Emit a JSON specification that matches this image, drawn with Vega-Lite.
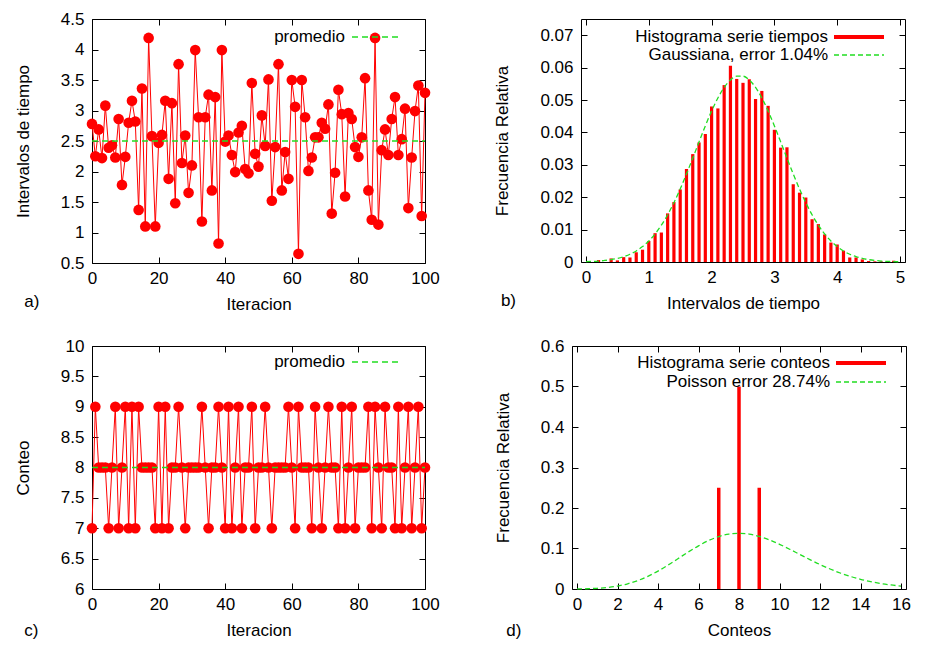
{
  "$schema": "https://vega.github.io/schema/vega-lite/v6.json",
  "background": "white",
  "padding": {"left": 13, "top": 9, "right": 5, "bottom": 5},
  "datasets": {
    "tiempos": [{"i":0,"t":2.78},{"i":1,"t":2.25},{"i":2,"t":2.69},{"i":3,"t":2.22},{"i":4,"t":3.08},{"i":5,"t":2.39},{"i":6,"t":2.43},{"i":7,"t":2.23},{"i":8,"t":2.86},{"i":9,"t":1.78},
      {"i":10,"t":2.24},{"i":11,"t":2.80},{"i":12,"t":3.16},{"i":13,"t":2.82},{"i":14,"t":1.37},{"i":15,"t":3.36},{"i":16,"t":1.10},{"i":17,"t":4.19},{"i":18,"t":2.58},{"i":19,"t":1.10},
      {"i":20,"t":2.47},{"i":21,"t":2.60},{"i":22,"t":3.16},{"i":23,"t":1.88},{"i":24,"t":3.12},{"i":25,"t":1.48},{"i":26,"t":3.76},{"i":27,"t":2.14},{"i":28,"t":2.59},{"i":29,"t":1.65},
      {"i":30,"t":2.10},{"i":31,"t":3.99},{"i":32,"t":2.89},{"i":33,"t":1.18},{"i":34,"t":2.89},{"i":35,"t":3.26},{"i":36,"t":1.69},{"i":37,"t":3.22},{"i":38,"t":0.82},{"i":39,"t":3.99},
      {"i":40,"t":2.49},{"i":41,"t":2.59},{"i":42,"t":2.27},{"i":43,"t":1.99},{"i":44,"t":2.64},{"i":45,"t":2.75},{"i":46,"t":2.04},{"i":47,"t":1.97},{"i":48,"t":3.45},{"i":49,"t":2.29},
      {"i":50,"t":2.08},{"i":51,"t":2.92},{"i":52,"t":2.42},{"i":53,"t":3.51},{"i":54,"t":1.52},{"i":55,"t":2.40},{"i":56,"t":3.76},{"i":57,"t":1.69},{"i":58,"t":2.32},{"i":59,"t":1.88},
      {"i":60,"t":3.50},{"i":61,"t":3.06},{"i":62,"t":0.65},{"i":63,"t":3.50},{"i":64,"t":2.89},{"i":65,"t":2.01},{"i":66,"t":2.23},{"i":67,"t":2.56},{"i":68,"t":2.56},{"i":69,"t":2.80},
      {"i":70,"t":2.70},{"i":71,"t":3.10},{"i":72,"t":1.31},{"i":73,"t":1.98},{"i":74,"t":3.34},{"i":75,"t":2.94},{"i":76,"t":1.59},{"i":77,"t":2.96},{"i":78,"t":2.86},{"i":79,"t":2.40},
      {"i":80,"t":2.24},{"i":81,"t":2.56},{"i":82,"t":3.53},{"i":83,"t":1.69},{"i":84,"t":1.21},{"i":85,"t":4.19},{"i":86,"t":1.13},{"i":87,"t":2.35},{"i":88,"t":2.69},{"i":89,"t":2.27},
      {"i":90,"t":2.86},{"i":91,"t":3.22},{"i":92,"t":2.27},{"i":93,"t":2.53},{"i":94,"t":3.03},{"i":95,"t":1.40},{"i":96,"t":2.23},{"i":97,"t":2.99},{"i":98,"t":3.41},{"i":99,"t":1.27},{"i":100,"t":3.29}],
    "conteos": [{"i":0,"c":7},{"i":1,"c":9},{"i":2,"c":8},{"i":3,"c":8},{"i":4,"c":8},{"i":5,"c":7},{"i":6,"c":8},{"i":7,"c":9},{"i":8,"c":7},{"i":9,"c":8},
      {"i":10,"c":9},{"i":11,"c":7},{"i":12,"c":9},{"i":13,"c":7},{"i":14,"c":9},{"i":15,"c":8},{"i":16,"c":8},{"i":17,"c":8},{"i":18,"c":8},{"i":19,"c":7},
      {"i":20,"c":9},{"i":21,"c":7},{"i":22,"c":9},{"i":23,"c":7},{"i":24,"c":8},{"i":25,"c":8},{"i":26,"c":9},{"i":27,"c":8},{"i":28,"c":7},{"i":29,"c":8},
      {"i":30,"c":8},{"i":31,"c":8},{"i":32,"c":8},{"i":33,"c":9},{"i":34,"c":8},{"i":35,"c":7},{"i":36,"c":8},{"i":37,"c":8},{"i":38,"c":9},{"i":39,"c":8},
      {"i":40,"c":7},{"i":41,"c":9},{"i":42,"c":7},{"i":43,"c":8},{"i":44,"c":9},{"i":45,"c":7},{"i":46,"c":8},{"i":47,"c":8},{"i":48,"c":9},{"i":49,"c":7},
      {"i":50,"c":8},{"i":51,"c":8},{"i":52,"c":9},{"i":53,"c":8},{"i":54,"c":7},{"i":55,"c":8},{"i":56,"c":8},{"i":57,"c":8},{"i":58,"c":8},{"i":59,"c":9},
      {"i":60,"c":8},{"i":61,"c":7},{"i":62,"c":9},{"i":63,"c":8},{"i":64,"c":8},{"i":65,"c":8},{"i":66,"c":7},{"i":67,"c":9},{"i":68,"c":8},{"i":69,"c":7},
      {"i":70,"c":8},{"i":71,"c":9},{"i":72,"c":8},{"i":73,"c":8},{"i":74,"c":7},{"i":75,"c":9},{"i":76,"c":7},{"i":77,"c":8},{"i":78,"c":9},{"i":79,"c":7},
      {"i":80,"c":8},{"i":81,"c":8},{"i":82,"c":8},{"i":83,"c":9},{"i":84,"c":7},{"i":85,"c":9},{"i":86,"c":8},{"i":87,"c":7},{"i":88,"c":9},{"i":89,"c":8},
      {"i":90,"c":8},{"i":91,"c":7},{"i":92,"c":9},{"i":93,"c":7},{"i":94,"c":8},{"i":95,"c":9},{"i":96,"c":7},{"i":97,"c":8},{"i":98,"c":9},{"i":99,"c":7},{"i":100,"c":8}],
    "prom_t": [{"i":0,"v":2.5,"serie":"promedio"},{"i":100,"v":2.5,"serie":"promedio"}],
    "prom_c": [{"i":0,"v":8,"serie":"promedio"},{"i":100,"v":8,"serie":"promedio"}],
    "hist_t": [{"x":0.2,"f":0.0006},{"x":0.4,"f":0.0011},{"x":0.5,"f":0.0005},{"x":0.6,"f":0.0015},{"x":0.7,"f":0.0014},{"x":0.8,"f":0.003},{"x":0.9,"f":0.0038},
      {"x":1.0,"f":0.0065},{"x":1.1,"f":0.0089},{"x":1.2,"f":0.0091},{"x":1.3,"f":0.015},{"x":1.4,"f":0.0185},{"x":1.5,"f":0.0224},{"x":1.6,"f":0.0287},{"x":1.7,"f":0.0333},{"x":1.8,"f":0.0369},{"x":1.9,"f":0.0395},
      {"x":2.0,"f":0.048},{"x":2.1,"f":0.0474},{"x":2.2,"f":0.0546},{"x":2.3,"f":0.0606},{"x":2.4,"f":0.0565},{"x":2.5,"f":0.0553},{"x":2.6,"f":0.0564},{"x":2.7,"f":0.0503},{"x":2.8,"f":0.0528},{"x":2.9,"f":0.0482},
      {"x":3.0,"f":0.0408},{"x":3.1,"f":0.0353},{"x":3.2,"f":0.0354},{"x":3.3,"f":0.024},{"x":3.4,"f":0.0214},{"x":3.5,"f":0.0199},{"x":3.6,"f":0.0132},{"x":3.7,"f":0.0117},{"x":3.8,"f":0.0085},{"x":3.9,"f":0.006},
      {"x":4.0,"f":0.0054},{"x":4.1,"f":0.0035},{"x":4.2,"f":0.0014},{"x":4.3,"f":0.0014},{"x":4.4,"f":0.0008},{"x":4.5,"f":0.0003},{"x":4.6,"f":0.0002},{"x":4.7,"f":0.0002},{"x":4.8,"f":0.0001},{"x":4.9,"f":0.0004}],
    "gauss": [{"x":0,"f":0.00011},{"x":0.1,"f":0.00019},{"x":0.2,"f":0.0003},{"x":0.3,"f":0.00047},{"x":0.4,"f":0.00073},{"x":0.5,"f":0.00111},{"x":0.6,"f":0.00165},{"x":0.7,"f":0.00239},{"x":0.8,"f":0.00341},{"x":0.9,"f":0.00475},
      {"x":1.0,"f":0.00648},{"x":1.1,"f":0.00867},{"x":1.2,"f":0.01136},{"x":1.3,"f":0.01457},{"x":1.4,"f":0.01831},{"x":1.5,"f":0.02253},{"x":1.6,"f":0.02716},{"x":1.7,"f":0.03207},{"x":1.8,"f":0.03708},{"x":1.9,"f":0.0420},
      {"x":2.0,"f":0.0466},{"x":2.1,"f":0.05063},{"x":2.2,"f":0.05389},{"x":2.3,"f":0.05617},{"x":2.4,"f":0.05735},{"x":2.5,"f":0.05735},{"x":2.6,"f":0.05617},{"x":2.7,"f":0.05389},{"x":2.8,"f":0.05063},{"x":2.9,"f":0.0466},
      {"x":3.0,"f":0.0420},{"x":3.1,"f":0.03708},{"x":3.2,"f":0.03207},{"x":3.3,"f":0.02716},{"x":3.4,"f":0.02253},{"x":3.5,"f":0.01831},{"x":3.6,"f":0.01457},{"x":3.7,"f":0.01136},{"x":3.8,"f":0.00867},{"x":3.9,"f":0.00648},
      {"x":4.0,"f":0.00475},{"x":4.1,"f":0.00341},{"x":4.2,"f":0.00239},{"x":4.3,"f":0.00165},{"x":4.4,"f":0.00111},{"x":4.5,"f":0.00073},{"x":4.6,"f":0.00047},{"x":4.7,"f":0.0003},{"x":4.8,"f":0.00019},{"x":4.9,"f":0.00011},{"x":5.0,"f":0.00007}],
    "hist_c": [{"x":7,"f":0.25},{"x":8,"f":0.5},{"x":9,"f":0.25}],
    "poisson": [{"x":0,"f":0.0002},{"x":0.5,"f":0.00067},{"x":1,"f":0.00173},{"x":1.5,"f":0.0038},{"x":2,"f":0.00735},{"x":2.5,"f":0.01291},{"x":3,"f":0.02083},{"x":3.5,"f":0.03135},{"x":4,"f":0.04425},{"x":4.5,"f":0.05922},
      {"x":5,"f":0.07523},{"x":5.5,"f":0.09152},{"x":6,"f":0.10658},{"x":6.5,"f":0.11968},{"x":7,"f":0.12942},{"x":7.5,"f":0.13564},{"x":8,"f":0.13751},{"x":8.5,"f":0.13564},{"x":9,"f":0.12987},{"x":9.5,"f":0.12136},
      {"x":10,"f":0.11039},{"x":10.5,"f":0.09825},{"x":11,"f":0.0853},{"x":11.5,"f":0.07262},{"x":12,"f":0.06042},{"x":12.5,"f":0.04938},{"x":13,"f":0.03951},{"x":13.5,"f":0.03109},{"x":14,"f":0.02399},{"x":14.5,"f":0.01823},
      {"x":15,"f":0.01359},{"x":15.5,"f":0.00999},{"x":16,"f":0.00722}]
  },
  "spacing": 22,
  "resolve": {"scale": {"color": "independent", "strokeDash": "independent", "strokeWidth": "independent"}, "legend": {"color": "independent", "strokeDash": "independent", "strokeWidth": "independent"}},
  "vconcat": [
    {
      "spacing": 53,
      "resolve": {"scale": {"color": "independent", "strokeDash": "independent", "strokeWidth": "independent"}, "legend": {"color": "independent", "strokeDash": "independent", "strokeWidth": "independent"}},
      "hconcat": [
        {
          "width": 333, "height": 244,
          "title": {"text": "a)", "orient": "bottom", "anchor": "start", "frame": "bounds", "dx": 10, "dy": -22},
          "resolve": {"axis": {"x": "independent", "y": "independent"}},
          "layer": [
            {"data": {"name": "tiempos"}, "mark": {"type": "line", "color": "#ff0000", "strokeWidth": 1},
             "encoding": {
               "x": {"field": "i", "type": "quantitative", "scale": {"domain": [0, 100], "nice": false}, "axis": {"title": "Iteracion", "values": [0, 20, 40, 60, 80, 100]}},
               "y": {"field": "t", "type": "quantitative", "scale": {"domain": [0.5, 4.5], "nice": false, "zero": false}, "axis": {"title": "Intervalos de tiempo", "values": [0.5, 1, 1.5, 2, 2.5, 3, 3.5, 4, 4.5], "format": "~g"}}}},
            {"data": {"name": "tiempos"}, "mark": {"type": "point", "filled": true, "color": "#ff0000", "size": 113, "opacity": 1},
             "encoding": {
               "x": {"field": "i", "type": "quantitative", "axis": null},
               "y": {"field": "t", "type": "quantitative", "axis": null}}},
            {"data": {"name": "prom_t"}, "mark": {"type": "line", "strokeDash": [6, 4], "strokeWidth": 1.5},
             "encoding": {
               "x": {"field": "i", "type": "quantitative", "axis": {"orient": "top", "labels": false, "title": null, "values": [0, 20, 40, 60, 80, 100]}},
               "y": {"field": "v", "type": "quantitative", "axis": {"orient": "right", "labels": false, "title": null, "values": [0.5, 1, 1.5, 2, 2.5, 3, 3.5, 4, 4.5]}},
               "color": {"field": "serie", "type": "nominal", "scale": {"domain": ["promedio"], "range": ["#22dd22"]},
                 "legend": {"title": null, "orient": "none", "legendX": 259, "legendY": -8, "symbolDash": [6, 4], "symbolStrokeWidth": 1.5}}}}
          ]
        },
        {
          "width": 324, "height": 243,
          "title": {"text": "b)", "orient": "bottom", "anchor": "start", "frame": "bounds", "dx": 7, "dy": -22},
          "resolve": {"axis": {"x": "independent", "y": "independent"}},
          "layer": [
            {"data": {"name": "hist_t"},
             "mark": {"type": "bar", "width": 3.2, "color": "#ff0000"},
             "encoding": {
               "x": {"field": "x", "type": "quantitative", "scale": {"domain": [0, 5], "nice": false}, "axis": {"title": "Intervalos de tiempo", "values": [0, 1, 2, 3, 4, 5]}},
               "y": {"field": "f", "type": "quantitative", "scale": {"domain": [0, 0.075], "nice": false}, "axis": {"title": "Frecuencia Relativa", "values": [0, 0.01, 0.02, 0.03, 0.04, 0.05, 0.06, 0.07], "format": "~g"}}}},
            {"data": {"name": "gauss"}, "transform": [{"calculate": "'Gaussiana, error 1.04%'", "as": "serie"}],
             "mark": {"type": "line", "interpolate": "monotone"},
             "encoding": {
               "x": {"field": "x", "type": "quantitative", "axis": {"orient": "top", "labels": false, "title": null, "values": [0, 1, 2, 3, 4, 5]}},
               "y": {"field": "f", "type": "quantitative", "axis": {"orient": "right", "labels": false, "title": null, "values": [0, 0.01, 0.02, 0.03, 0.04, 0.05, 0.06, 0.07]}},
               "color": {"field": "serie", "type": "nominal", "scale": {"domain": ["Histograma serie tiempos", "Gaussiana, error 1.04%"], "range": ["#ff0000", "#22dd22"]},
                 "legend": {"title": null, "orient": "none", "legendX": 251, "legendY": 9.5, "rowPadding": 0,
                   "encode": {"symbols": {"update": {"y": {"value": 8.5}}}, "labels": {"update": {"y": {"value": 8.5}}}}}},
               "strokeDash": {"field": "serie", "type": "nominal", "scale": {"domain": ["Histograma serie tiempos", "Gaussiana, error 1.04%"], "range": [[1, 0], [5, 3]]},
                 "legend": {"title": null, "orient": "none", "legendX": 251, "legendY": 9.5, "rowPadding": 0,
                   "encode": {"symbols": {"update": {"y": {"value": 8.5}}}, "labels": {"update": {"y": {"value": 8.5}}}}}},
               "strokeWidth": {"field": "serie", "type": "ordinal", "scale": {"type": "point", "padding": 0, "domain": ["Histograma serie tiempos", "Gaussiana, error 1.04%"], "range": [4, 1.3]},
                 "legend": {"title": null, "orient": "none", "legendX": 251, "legendY": 9.5, "rowPadding": 0,
                   "encode": {"symbols": {"update": {"y": {"value": 8.5}}}, "labels": {"update": {"y": {"value": 8.5}}}}}}}}
          ]
        }
      ]
    },
    {
      "spacing": 53,
      "resolve": {"scale": {"color": "independent", "strokeDash": "independent", "strokeWidth": "independent"}, "legend": {"color": "independent", "strokeDash": "independent", "strokeWidth": "independent"}},
      "hconcat": [
        {
          "width": 333, "height": 243,
          "title": {"text": "c)", "orient": "bottom", "anchor": "start", "frame": "bounds", "dx": 10, "dy": -19},
          "resolve": {"axis": {"x": "independent", "y": "independent"}},
          "layer": [
            {"data": {"name": "conteos"}, "mark": {"type": "line", "color": "#ff0000", "strokeWidth": 1},
             "encoding": {
               "x": {"field": "i", "type": "quantitative", "scale": {"domain": [0, 100], "nice": false}, "axis": {"title": "Iteracion", "values": [0, 20, 40, 60, 80, 100]}},
               "y": {"field": "c", "type": "quantitative", "scale": {"domain": [6, 10], "nice": false, "zero": false}, "axis": {"title": "Conteo", "values": [6, 6.5, 7, 7.5, 8, 8.5, 9, 9.5, 10], "format": "~g"}}}},
            {"data": {"name": "conteos"}, "mark": {"type": "point", "filled": true, "color": "#ff0000", "size": 113, "opacity": 1},
             "encoding": {
               "x": {"field": "i", "type": "quantitative", "axis": null},
               "y": {"field": "c", "type": "quantitative", "axis": null}}},
            {"data": {"name": "prom_c"}, "mark": {"type": "line", "strokeDash": [6, 4], "strokeWidth": 1.5},
             "encoding": {
               "x": {"field": "i", "type": "quantitative", "axis": {"orient": "top", "labels": false, "title": null, "values": [0, 20, 40, 60, 80, 100]}},
               "y": {"field": "v", "type": "quantitative", "axis": {"orient": "right", "labels": false, "title": null, "values": [6, 6.5, 7, 7.5, 8, 8.5, 9, 9.5, 10]}},
               "color": {"field": "serie", "type": "nominal", "scale": {"domain": ["promedio"], "range": ["#22dd22"]},
                 "legend": {"title": null, "orient": "none", "legendX": 259, "legendY": -10, "symbolDash": [6, 4], "symbolStrokeWidth": 1.5}}}}
          ]
        },
        {
          "width": 334, "height": 243,
          "title": {"text": "d)", "orient": "bottom", "anchor": "start", "frame": "bounds", "dx": 12, "dy": -19},
          "resolve": {"axis": {"x": "independent", "y": "independent"}},
          "layer": [
            {"data": {"name": "hist_c"},
             "mark": {"type": "bar", "width": 3.5, "color": "#ff0000"},
             "encoding": {
               "x": {"field": "x", "type": "quantitative", "scale": {"domain": [0, 16], "nice": false}, "axis": {"title": "Conteos", "values": [0, 2, 4, 6, 8, 10, 12, 14, 16]}},
               "y": {"field": "f", "type": "quantitative", "scale": {"domain": [0, 0.6], "nice": false}, "axis": {"title": "Frecuencia Relativa", "values": [0, 0.1, 0.2, 0.3, 0.4, 0.5, 0.6], "format": "~g"}}}},
            {"data": {"name": "poisson"}, "transform": [{"calculate": "'Poisson error 28.74%'", "as": "serie"}],
             "mark": {"type": "line", "interpolate": "monotone"},
             "encoding": {
               "x": {"field": "x", "type": "quantitative", "axis": {"orient": "top", "labels": false, "title": null, "values": [0, 2, 4, 6, 8, 10, 12, 14, 16]}},
               "y": {"field": "f", "type": "quantitative", "axis": {"orient": "right", "labels": false, "title": null, "values": [0, 0.1, 0.2, 0.3, 0.4, 0.5, 0.6]}},
               "color": {"field": "serie", "type": "nominal", "scale": {"domain": ["Histograma serie conteos", "Poisson error 28.74%"], "range": ["#ff0000", "#22dd22"]},
                 "legend": {"title": null, "orient": "none", "legendX": 262, "legendY": 8.5, "rowPadding": 1,
                   "encode": {"symbols": {"update": {"y": {"value": 8.5}}}, "labels": {"update": {"y": {"value": 8.5}}}}}},
               "strokeDash": {"field": "serie", "type": "nominal", "scale": {"domain": ["Histograma serie conteos", "Poisson error 28.74%"], "range": [[1, 0], [5, 3]]},
                 "legend": {"title": null, "orient": "none", "legendX": 262, "legendY": 8.5, "rowPadding": 1,
                   "encode": {"symbols": {"update": {"y": {"value": 8.5}}}, "labels": {"update": {"y": {"value": 8.5}}}}}},
               "strokeWidth": {"field": "serie", "type": "ordinal", "scale": {"type": "point", "padding": 0, "domain": ["Histograma serie conteos", "Poisson error 28.74%"], "range": [4, 1.3]},
                 "legend": {"title": null, "orient": "none", "legendX": 262, "legendY": 8.5, "rowPadding": 1,
                   "encode": {"symbols": {"update": {"y": {"value": 8.5}}}, "labels": {"update": {"y": {"value": 8.5}}}}}}}}
          ]
        }
      ]
    }
  ],
  "config": {
    "font": "Liberation Sans",
    "view": {"stroke": "black", "strokeWidth": 1},
    "axis": {"grid": false, "domain": false, "tickSize": -6, "tickColor": "black", "tickWidth": 1, "labelFlush": false, "labelOverlap": false,
      "labelFont": "Liberation Sans", "labelFontSize": 17, "labelColor": "black", "labelPadding": 13,
      "titleFont": "Liberation Sans", "titleFontSize": 17, "titleFontWeight": "normal", "titleColor": "black", "titlePadding": 10, "zindex": 1},
    "axisY": {"labelPadding": 14, "titlePadding": 28},
    "legend": {"labelFont": "Liberation Sans", "labelFontSize": 17, "labelColor": "black", "labelLimit": 400,
      "symbolType": "stroke", "symbolSize": 2500, "labelAlign": "right", "labelOffset": -58, "symbolOffset": 0, "padding": 0, "rowPadding": 0},
    "title": {"font": "Liberation Sans", "fontSize": 17, "fontWeight": "normal", "color": "black"}
  }
}
